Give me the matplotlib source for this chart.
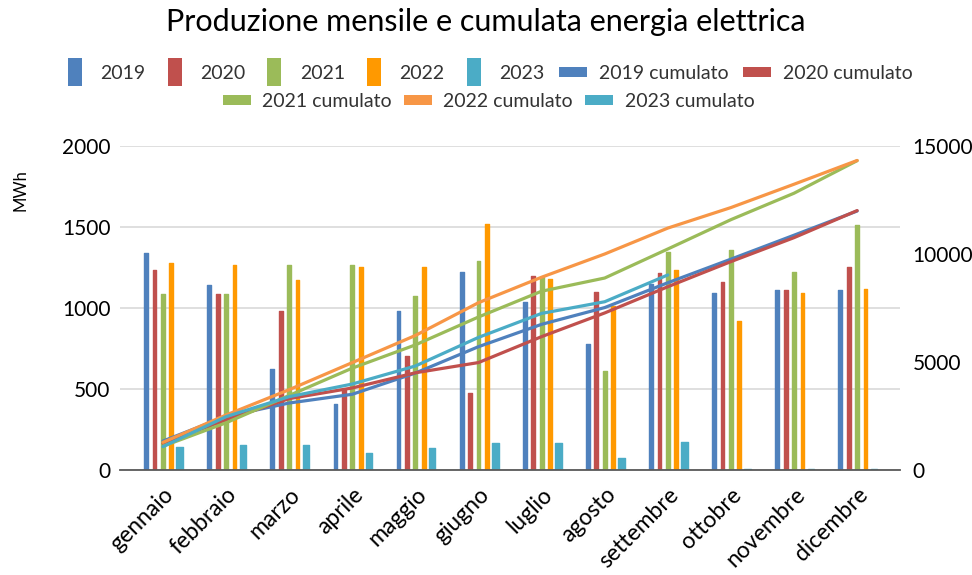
import numpy as np
import matplotlib.pyplot as plt
from matplotlib.lines import Line2D

plt.rcParams["font.family"] = ["Lato", "DejaVu Sans"]

mesi = [
    "gennaio", "febbraio", "marzo", "aprile", "maggio", "giugno",
    "luglio", "agosto", "settembre", "ottobre", "novembre", "dicembre",
]
anni = ["2019", "2020", "2021", "2022", "2023"]

# produzione mensile (MWh)
prod_2019 = [1340, 1140, 621, 405, 983, 1220, 1035, 776, 1150, 1091, 1109, 1109]
prod_2020 = [1235, 1086, 983, 494, 703, 473, 1200, 1097, 1214, 1163, 1109, 1255]
prod_2021 = [1086, 1086, 1265, 1265, 1076, 1292, 1193, 611, 1344, 1358, 1224, 1512]
prod_2022 = [1280, 1265, 1173, 1255, 1255, 1518, 1179, 1010, 1235, 922, 1091, 1117]
prod_2023 = [140, 154, 154, 103, 134, 165, 165, 72, 175, 8, 8, 8]

# cumulato (asse destro)
cum_2019 = [1340, 2480, 3101, 3506, 4489, 5709, 6744, 7520, 8670, 9761, 10870, 11990]
cum_2020 = [1235, 2321, 3304, 3798, 4501, 4974, 6174, 7271, 8485, 9648, 10757, 12010]
cum_2021 = [1100, 2186, 3451, 4716, 5792, 7084, 8277, 8888, 10232, 11590, 12814, 14320]
cum_2022 = [1280, 2545, 3718, 4973, 6228, 7746, 8925, 10000, 11200, 12150, 13230, 14330]
cum_2023 = [1080, 2470, 3395, 3980, 4815, 6140, 7250, 7790, 9030]

prod = [prod_2019, prod_2020, prod_2021, prod_2022, prod_2023]
cum = [cum_2019, cum_2020, cum_2021, cum_2022, cum_2023]

col_barre = ["#4F81BD", "#C0504D", "#9BBB59", "#FF9900", "#4BACC6"]
col_linee = ["#4F81BD", "#C0504D", "#9BBB59", "#F79646", "#4BACC6"]

fig = plt.figure(figsize=(9.72, 5.75), dpi=100)
ax = fig.add_axes([0.1235, 0.1826, 0.8025, 0.5635])
ax2 = ax.twinx()

x = np.arange(len(mesi))
passo = 0.133
for i, (anno, valori) in enumerate(zip(anni, prod)):
    larg = 0.105 if anno == "2023" else 0.06
    ax.bar(
        x + (i - 2) * passo, valori, width=larg, color=col_barre[i],
        edgecolor=col_barre[i], linewidth=1.0, joinstyle="round", zorder=2,
    )

for i, (anno, valori) in enumerate(zip(anni, cum)):
    ax2.plot(x[: len(valori)], valori, color=col_linee[i], lw=2.3,
             solid_capstyle="round")

ax.set_xlim(-0.68, 11.68)
ax.set_ylim(0, 2000)
ax.set_yticks(range(0, 2001, 500))
ax2.set_ylim(0, 15000)
ax2.set_yticks(range(0, 15001, 5000))

ax.set_axisbelow(True)
ax.yaxis.grid(True, color="#D9D9D9", lw=1.2)
for s in ["left", "right", "top"]:
    ax.spines[s].set_visible(False)
for s in ax2.spines.values():
    s.set_visible(False)
ax.spines["bottom"].set_color("#595959")
ax.spines["bottom"].set_linewidth(1.3)
ax.spines["bottom"].set_zorder(5)

ax.tick_params(axis="y", length=0, labelsize=15, pad=7)
ax2.tick_params(axis="y", length=0, labelsize=15, pad=9)
ax.tick_params(axis="x", length=0, pad=10)
ax.set_xticks(x)
ax.set_xticklabels(mesi, rotation=45, ha="right", va="top",
                   rotation_mode="anchor", fontsize=16.5)

fig.text(0.021, 0.67, "MWh", rotation=90, fontsize=12, ha="center", va="center")
fig.suptitle("Produzione mensile e cumulata energia elettrica", fontsize=22,
             y=0.962, va="center")

barra = [(-1, -2), (1, -2), (1, 2), (-1, 2)]
trattino = [(-3, -1), (3, -1), (3, 1), (-3, 1)]
h_barre = [Line2D([], [], ls="none", marker=barra, markersize=20,
                  color=c, markeredgewidth=0) for c in col_barre]
h_linee = [Line2D([], [], ls="none", marker=trattino, markersize=20,
                  color=c, markeredgewidth=0) for c in col_linee]
etichette = anni + [a + " cumulato" for a in anni]

leg1 = fig.legend(h_barre + h_linee[:2], etichette[:7], ncol=7, loc="center",
                  bbox_to_anchor=(0.502, 0.873), frameon=False, fontsize=14,
                  handlelength=1.2, handletextpad=0.7, columnspacing=0.9)
leg2 = fig.legend(h_linee[2:], etichette[7:], ncol=3, loc="center",
                  bbox_to_anchor=(0.504, 0.824), frameon=False, fontsize=14,
                  handlelength=1.2, handletextpad=0.7, columnspacing=0.75)
for t in leg1.get_texts() + leg2.get_texts():
    t.set_color("#333333")

fig.savefig("out.png", dpi=100)
